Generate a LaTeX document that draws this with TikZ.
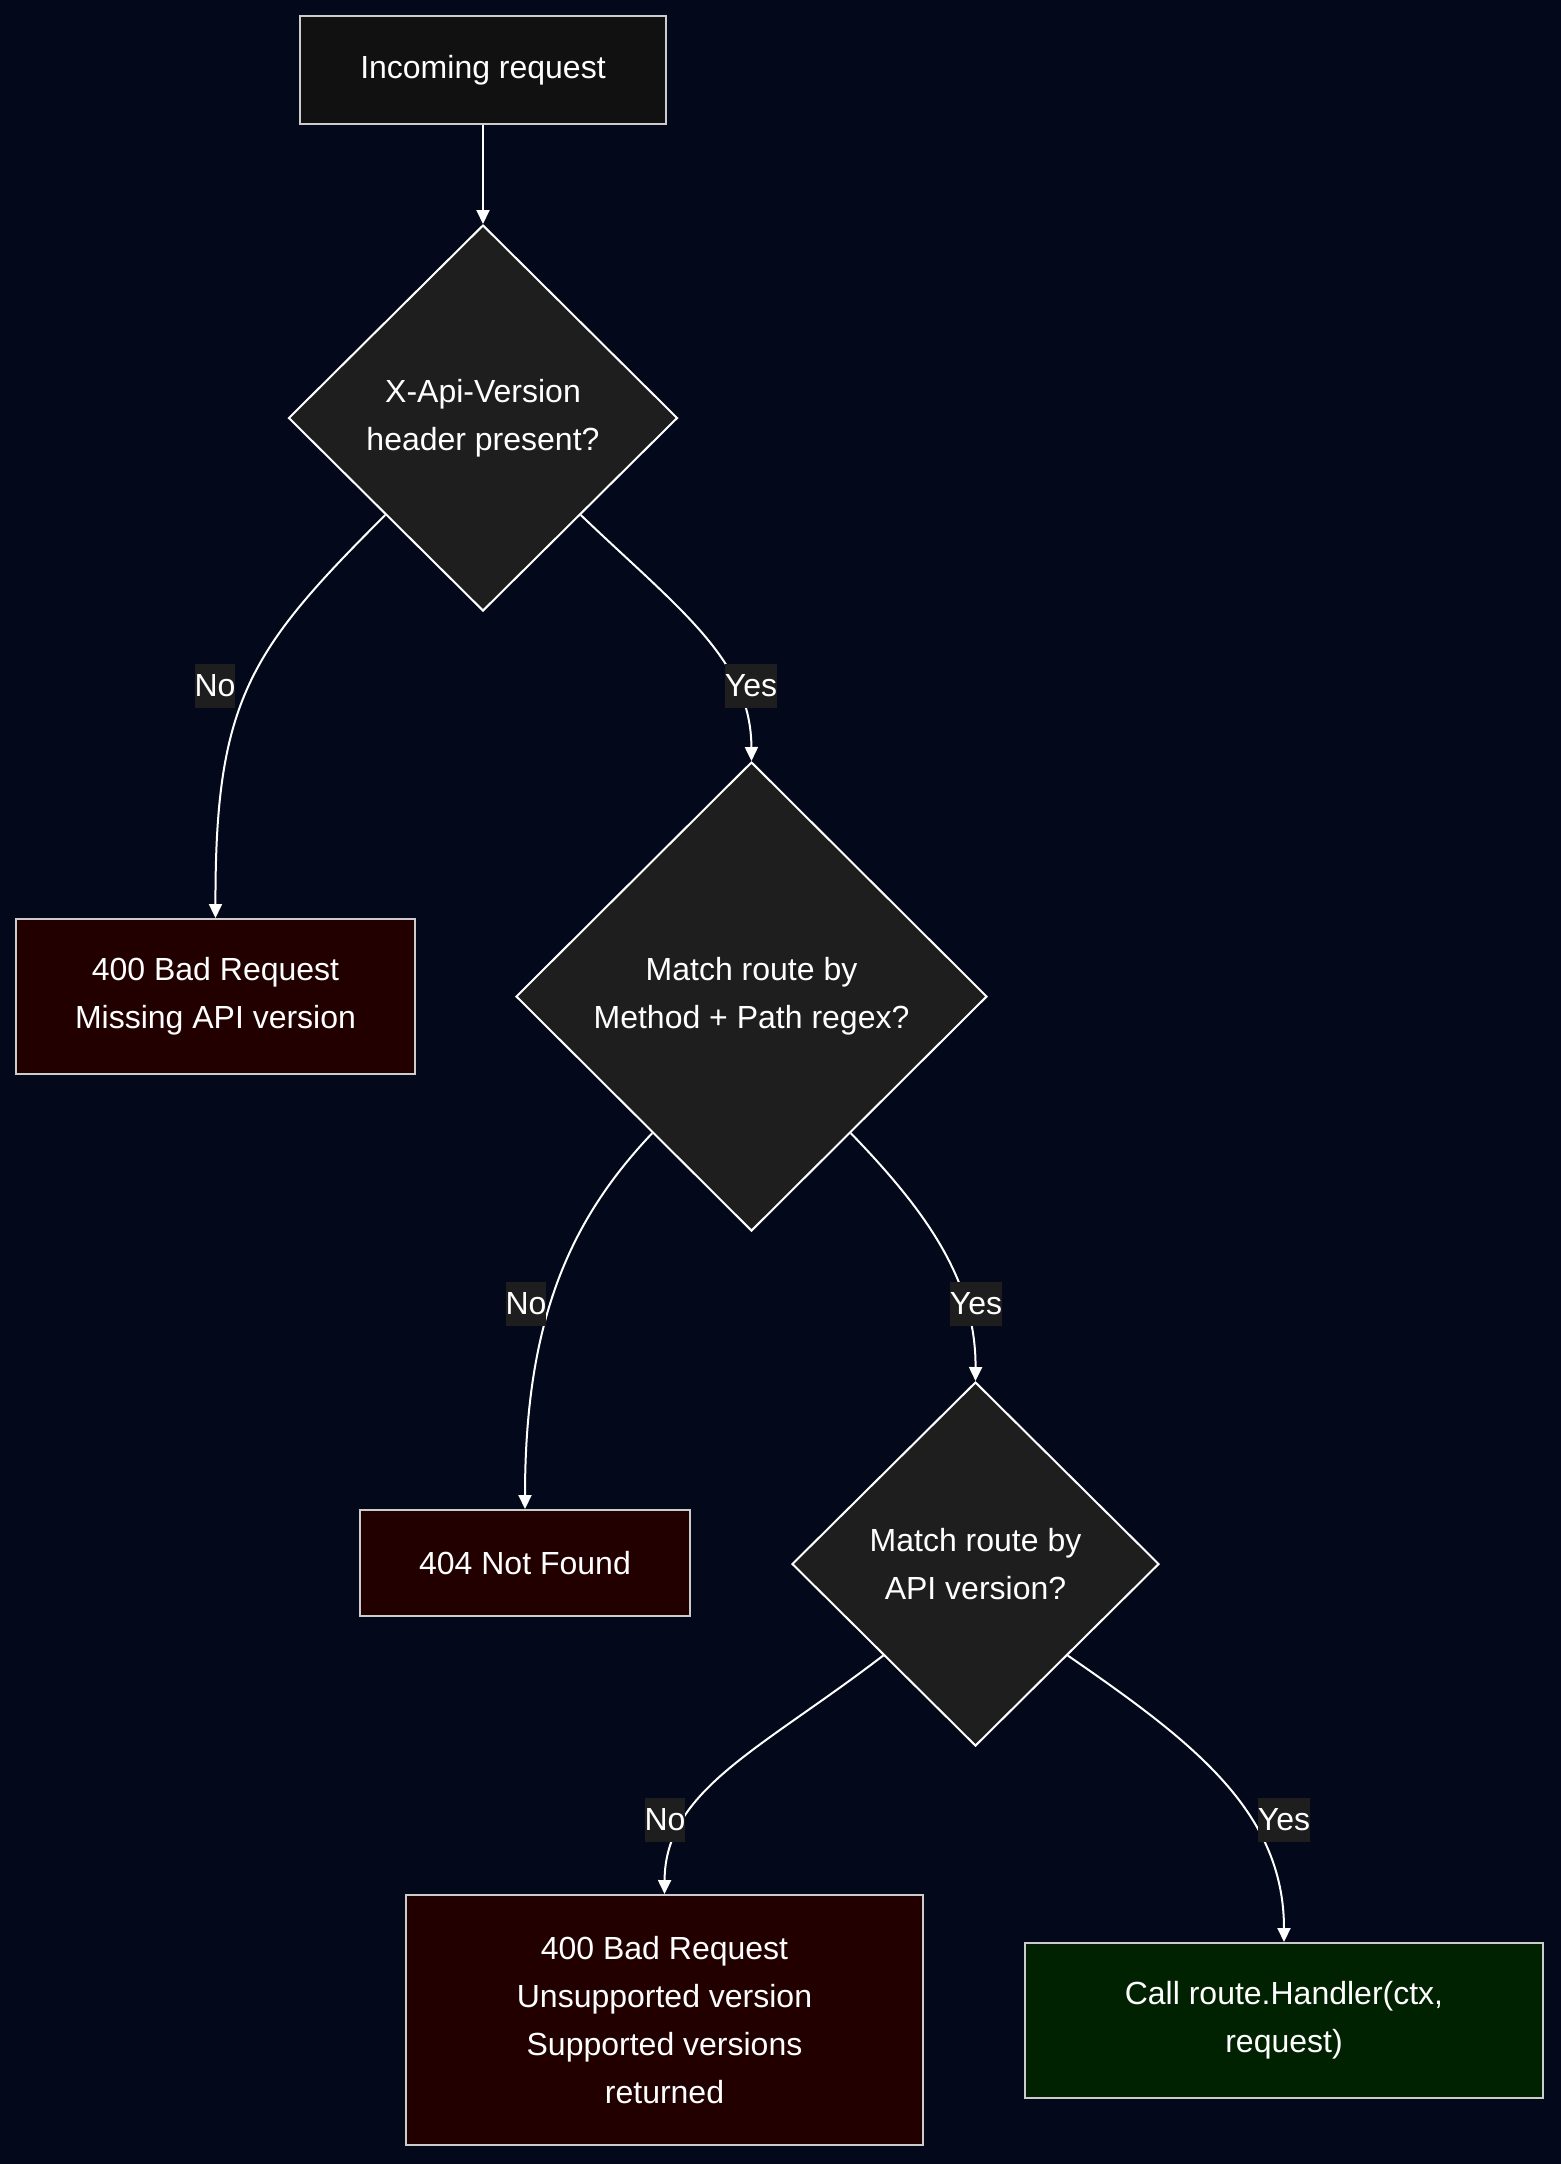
\documentclass[tikz,border=0pt]{standalone}
\usepackage{fontspec}
\setmainfont{Liberation Sans}
\usepackage{tikz}
\usetikzlibrary{shapes.geometric,arrows.meta}
\definecolor{pagebg}{RGB}{3,9,26}
\definecolor{startfill}{RGB}{17,17,17}
\definecolor{askfill}{RGB}{30,30,30}
\definecolor{errfill}{RGB}{34,0,0}
\definecolor{okfill}{RGB}{0,34,0}
\definecolor{boxline}{RGB}{204,204,204}
\tikzset{
  procbox/.style={draw=boxline,line width=1pt,fill=startfill,text=white,
    align=center,inner sep=0pt,font=\fontsize{16}{24}\selectfont},
  errbox/.style={procbox,fill=errfill},
  okbox/.style={procbox,fill=okfill},
  decision/.style={diamond,draw=white,line width=1pt,fill=askfill,text=white,
    align=center,inner sep=0pt,aspect=1,font=\fontsize{16}{24}\selectfont},
  lbl/.style={fill=askfill,text=white,inner xsep=0pt,inner ysep=0pt,
    minimum height=22pt,font=\fontsize{16}{24}\selectfont},
  flow/.style={draw=white,line width=1pt,-{Triangle[length=7pt,width=6.5pt]}}
}
\begin{document}
\begin{tikzpicture}[x=0.5pt,y=-0.5pt]
    % Page
    \fill[pagebg] (0,0) rectangle (1561,2164);
    \useasboundingbox (0,0) rectangle (1561,2164);
    % Nodes
    \node[procbox,minimum width=183pt,minimum height=54pt] (in) at (483,70) {Incoming request};
    \node[decision,minimum width=194.5pt,minimum height=193pt] (hdr) at (483,418) {X-Api-Version\\header present?};
    \node[errbox,minimum width=199.5pt,minimum height=77.5pt] (bad) at (215.5,996.5) {400 Bad Request\\Missing API version};
    \node[decision,minimum width=235.5pt,minimum height=234.5pt] (route) at (751.5,996.5) {Match route by\\Method + Path regex?};
    \node[errbox,minimum width=165pt,minimum height=53pt] (nf) at (525,1563) {404 Not Found};
    \node[decision,minimum width=183.5pt,minimum height=182pt] (ver) at (975.5,1564) {Match route by\\API version?};
    \node[errbox,minimum width=258.5pt,minimum height=125pt] (unsup) at (664.5,2020) {400 Bad Request\\Unsupported version\\Supported versions\\returned};
    \node[okbox,minimum width=259pt,minimum height=77.5pt] (call) at (1284,2020.5) {Call route.Handler(ctx,\\request)};
    % Connectors
    \draw[flow] (in.south) -- (hdr.north);
    \draw[flow] (hdr.south west) .. controls (250,650) and (215,700) .. (bad.north);
    \draw[flow] (hdr.south east) .. controls (680,610) and (751,660) .. (route.north);
    \draw[flow] (route.234) .. controls (570,1220) and (525,1320) .. (nf.north);
    \draw[flow] (route.306) .. controls (925,1210) and (976,1280) .. (ver.north);
    \draw[flow] (ver.south west) .. controls (760,1750) and (665,1790) .. (unsup.north);
    \draw[flow] (ver.south east) .. controls (1190,1740) and (1284,1810) .. (call.north);
    % Edge labels
    \node[lbl] (l1) at (215,686) {No};
    \node[lbl] (l2) at (751,686) {Yes};
    \node[lbl] (l3) at (526,1304) {No};
    \node[lbl] (l4) at (976,1304) {Yes};
    \node[lbl] (l5) at (665,1820) {No};
    \node[lbl] (l6) at (1284,1820) {Yes};
  \end{tikzpicture}
\end{document}
